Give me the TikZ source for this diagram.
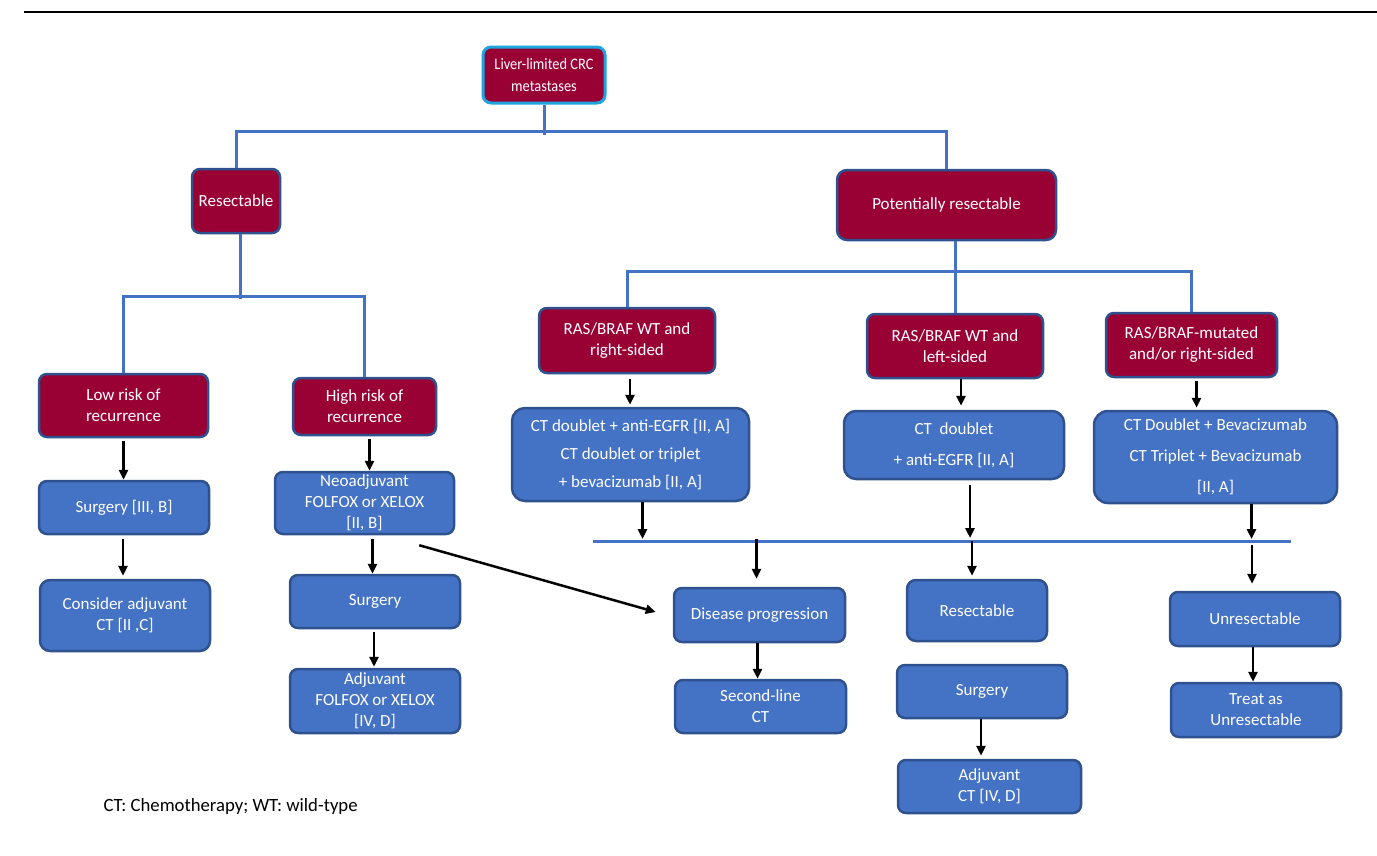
\documentclass[tikz,border=0pt]{standalone}
\usepackage{fontspec}
\setmainfont{Carlito}
\newfontfamily\narrowfont[FakeStretch=0.9]{Carlito}
\usetikzlibrary{arrows.meta,calc}
\definecolor{dred}{RGB}{153,0,51}
\definecolor{bfill}{RGB}{68,114,196}
\definecolor{bedge}{RGB}{47,82,143}
\definecolor{cyanedge}{RGB}{30,165,222}
\tikzset{
  base/.style={rounded corners=8pt, line width=2.5pt, draw=bedge, text=white, align=center, inner sep=0pt, font=\fontsize{17}{21}\selectfont},
  redbox/.style={base, fill=dred},
  bluebox/.style={base, fill=bfill},
  tree/.style={draw=bfill, line width=3pt},
  arr/.style={draw=black, line width=2.5pt, -{Triangle[length=10pt,width=9pt]}},
}
\newcommand{\bx}[6]{\node[#1, minimum width=#4pt, minimum height=#5pt] (#2) at (#3) {#6};}
\begin{document}
\begin{tikzpicture}[x=1pt,y=-1pt]
\useasboundingbox (0,0) rectangle (1377,855);
% top rule
\coordinate (ruleL) at (24,12);
\coordinate (ruleR) at (1377,12);
\draw[line width=2.5pt] (ruleL) -- (ruleR);

% nodes
\bx{redbox, draw=cyanedge, line width=3pt, font=\narrowfont\fontsize{16}{22}\selectfont}{root}{544,75}{122}{56}{Liver-limited CRC\\metastases}
\bx{redbox}{res}{236,201}{88}{64}{Resectable}
\bx{redbox, rounded corners=10pt}{pot}{946.5,205}{219}{70}{Potentially resectable}
\bx{redbox}{low}{123.5,405.5}{169}{63}{Low risk of\\recurrence}
\bx{redbox}{high}{364.5,406.5}{143}{57}{High risk of\\recurrence}
\bx{bluebox}{surgA}{124,507.5}{170}{53}{Surgery [III, B]}
\bx{bluebox, rounded corners=10pt}{cons}{125,615.5}{170}{71}{Consider adjuvant\\CT [II ,C]}
\bx{bluebox}{neo}{364.5,503}{179}{62}{Neoadjuvant\\FOLFOX or XELOX\\{}[II, B]}
\bx{bluebox}{surgB}{375,601.5}{170}{53}{Surgery}
\bx{bluebox}{adjA}{375,701}{170}{64}{Adjuvant\\FOLFOX or XELOX\\{}[IV, D]}
\bx{redbox}{rasR}{627,340.5}{176}{65}{RAS/BRAF WT and\\right-sided}
\bx{redbox}{rasL}{955,346}{176}{64}{RAS/BRAF WT and\\left-sided}
\bx{redbox}{rasM}{1191.5,345}{171}{64}{RAS/BRAF-mutated\\and/or right-sided}
\bx{bluebox, rounded corners=13pt, font=\fontsize{17}{28}\selectfont}{ctR}{630.5,454.5}{237}{93}{CT doublet + anti-EGFR [II, A]\\CT doublet or triplet\\+ bevacizumab [II, A]}
\bx{bluebox, rounded corners=12pt, font=\fontsize{17}{31}\selectfont}{ctL}{954,445}{220}{68}{CT\ \ doublet\\+ anti-EGFR [II, A]}
\bx{bluebox, rounded corners=14pt, font=\fontsize{17}{31}\selectfont}{ctM}{1215.5,457}{243}{92}{CT Doublet + Bevacizumab\\CT Triplet + Bevacizumab\\{}[II, A]}
\bx{bluebox}{dis}{759.5,615}{171}{54}{Disease progression}
\bx{bluebox}{sec}{760.5,706.5}{171}{53}{Second-line\\CT}
\bx{bluebox, rounded corners=9pt}{resB}{977,610.5}{140}{61}{Resectable}
\bx{bluebox}{surgC}{982,691.5}{170}{53}{Surgery}
\bx{bluebox}{adjB}{989.5,786.5}{183}{53}{Adjuvant\\CT [IV, D]}
\bx{bluebox}{unres}{1255,619}{170}{54}{Unresectable}
\bx{bluebox}{treat}{1256,710}{170}{54}{Treat as\\Unresectable}

\node[anchor=west, font=\fontsize{18.7}{22}\selectfont, text=black] (note) at (100,807) {CT: Chemotherapy; WT: wild-type};

% tree connectors
\draw[tree] (root.south) -- ++(0,30);
\draw[tree] (res.north) -- ++(0,-36) -| (pot.north);
\draw[tree] (res.south) ++(4,0) -- ++(0,65);
\draw[tree] (low.north) -- ++(0,-76) -| (high.north);
\draw[tree] (pot.south -| rasL.north) -- (rasL.north);
\draw[tree] (rasR.north) -- ++(0,-35) -| (rasM.north);
\coordinate (barL) at (593,541);
\coordinate (barR) at (1291,541);
\draw[tree] (barL) -- (barR);

% arrows left
\draw[arr] ($(low.south)+(0,3)$) -- (low.south |- surgA.north);
\draw[arr] ($(surgA.south)+(-1,4)$) -- ($(surgA.south |- cons.north)+(-1,-3)$);
\draw[arr] ($(high.south)+(5,3)$) -- ($(high.south |- neo.north)+(5,0)$);
\draw[arr] ($(neo.south)+(8,4)$) -- ($(neo.south |- surgB.north)+(8,0)$);
\draw[arr] ($(surgB.south)+(-1,3)$) -- ($(surgB.south |- adjA.north)+(-1,-1)$);
\draw[arr] ($(neo.south east)+(-36,10)$) -- ($(dis.west)+(-17,-3)$);

% arrows right
\draw[arr] ($(rasR.south)+(3,5)$) -- ($(rasR.south |- ctR.north)+(3,-2)$);
\draw[arr] ($(rasL.south)+(6,0)$) -- ($(rasL.south |- ctL.north)+(6,-4)$);
\draw[arr] ($(rasM.south)+(5,3)$) -- ($(rasM.south |- ctM.north)+(5,-2)$);
\draw[arr] ($(ctR.south)+(12,0)$) -- ($(ctR.south |- barL)+(12,-2)$);
\draw[arr] ($(ctL.south)+(16,5)$) -- ($(ctL.south |- barL)+(16,-3)$);
\draw[arr] ($(ctM.south)+(36,0)$) -- ($(ctM.south |- barL)+(36,-2)$);
\draw[arr] ($(dis.north |- barL)+(-3,-2)$) -- ($(dis.north)+(-3,-8)$);
\draw[arr] ($(resB.north |- barL)+(-5,0)$) -- ($(resB.north)+(-5,-3)$);
\draw[arr] ($(unres.north |- barL)+(-3,4)$) -- ($(unres.north)+(-3,-7)$);
\draw[arr] ($(dis.south)+(-2,0)$) -- ($(dis.south |- sec.north)+(-2,0)$);
\draw[arr] ($(surgC.south)+(-1,0)$) -- ($(surgC.south |- adjB.north)+(-1,-3)$);
\draw[arr] ($(unres.south)+(-2,0)$) -- ($(unres.south |- treat.north)+(-2,0)$);
\end{tikzpicture}
\end{document}
